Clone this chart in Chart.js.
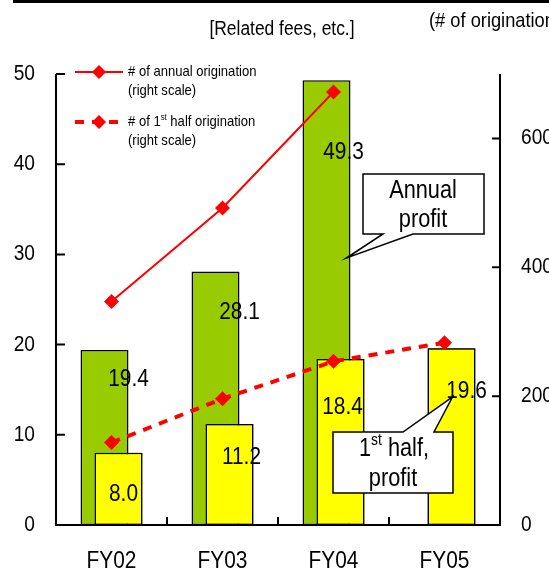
<!DOCTYPE html>
<html>
<head>
<meta charset="utf-8">
<script src="https://cdn.jsdelivr.net/npm/chart.js@4.4.1/dist/chart.umd.min.js"></script>
<style>
  html, body { margin: 0; padding: 0; background: #ffffff; }
  canvas { display: block; }
</style>
</head>
<body>
<canvas id="chart" width="549" height="574"></canvas>
<script>
// Fiscal years on the category axis
const categories = ['FY02', 'FY03', 'FY04', 'FY05'];
// Profit from related fees (left scale)
const annualProfit = [19.4, 28.1, 49.3, null];
const halfProfit = [8.0, 11.2, 18.4, 19.6];
// Number of originations (right scale)
const annualOrigination = [347, 492, 672, null];
const halfOrigination = [128, 196, 254, 283];
// Tick values for the two value axes
const leftTicks = [0, 10, 20, 30, 40, 50];
const rightTicks = [0, 200, 400, 600];

// Hand-placed nudges (px) of each value label from the top centre of its bar
const annualLabelNudge = [[24, 29], [24, 41], [17, 72], [0, 0]];
const halfLabelNudge = [[5, 42], [12, 33], [2, 48], [15, 43]];

const FONT = '"Liberation Sans", Arial, sans-serif';
const NARROW = 0.87;          // horizontal squeeze giving a condensed face
const GREEN = '#99CC00';
const YELLOW = '#FFFF00';
const RED = '#FF0000';

// Draw condensed text; pieces are [text, isSuperscript] pairs
function richWidth(ctx, pieces, size) {
  let w = 0;
  pieces.forEach(p => {
    ctx.font = (p[1] ? Math.round(size * 0.62) : size) + 'px ' + FONT;
    w += ctx.measureText(p[0]).width;
  });
  return w * NARROW;
}
function drawText(ctx, pieces, x, y, size, align) {
  if (typeof pieces === 'string') pieces = [[pieces]];
  ctx.save();
  ctx.fillStyle = '#000000';
  ctx.textBaseline = 'middle';
  ctx.textAlign = 'left';
  const w = richWidth(ctx, pieces, size);
  let start = x;
  if (align === 'center') start = x - w / 2;
  else if (align === 'right') start = x - w;
  ctx.translate(start, y);
  ctx.scale(NARROW, 1);
  let cx = 0;
  pieces.forEach(p => {
    const s = p[1] ? Math.round(size * 0.62) : size;
    ctx.font = s + 'px ' + FONT;
    ctx.fillText(p[0], cx, p[1] ? -size * 0.33 : 0);
    cx += ctx.measureText(p[0]).width;
  });
  ctx.restore();
}

function diamond(ctx, x, y, r, color) {
  ctx.save();
  ctx.fillStyle = color;
  ctx.beginPath();
  ctx.moveTo(x, y - r);
  ctx.lineTo(x + r, y);
  ctx.lineTo(x, y + r);
  ctx.lineTo(x - r, y);
  ctx.closePath();
  ctx.fill();
  ctx.restore();
}

function callout(ctx, box, base, tip, lines) {
  ctx.save();
  ctx.beginPath();
  const { l, t, r, b } = box;
  if (base.edge === 'bottom') {
    ctx.moveTo(l, t);
    ctx.lineTo(r, t);
    ctx.lineTo(r, b);
    ctx.lineTo(base.x2, b);
    ctx.lineTo(tip.x, tip.y);
    ctx.lineTo(base.x1, b);
    ctx.lineTo(l, b);
  } else {
    ctx.moveTo(l, t);
    ctx.lineTo(base.x1, t);
    ctx.lineTo(tip.x, tip.y);
    ctx.lineTo(base.x2, t);
    ctx.lineTo(r, t);
    ctx.lineTo(r, b);
    ctx.lineTo(l, b);
  }
  ctx.closePath();
  ctx.fillStyle = '#ffffff';
  ctx.fill();
  ctx.lineWidth = 1.5;
  ctx.strokeStyle = '#000000';
  ctx.stroke();
  ctx.restore();
  lines.forEach(line => drawText(ctx, line.pieces, line.cx, line.cy, 25, 'center'));
}

const overlay = {
  id: 'overlay',
  beforeDraw(chart) {
    const ctx = chart.ctx;
    ctx.save();
    ctx.fillStyle = '#ffffff';
    ctx.fillRect(0, 0, chart.width, chart.height);
    ctx.restore();
  },
  afterDatasetDraw(chart, args) {
    // half-year bars sit in front of the annual bars
    if (args.index === 0) {
      chart.getDatasetMeta(1).controller.draw();
    }
  },
  afterDatasetsDraw(chart) {
    const ctx = chart.ctx;
    const area = chart.chartArea;
    const xs = chart.scales.x;
    const yl = chart.scales.y;
    const yr = chart.scales.y2;

    ctx.save();
    ctx.strokeStyle = '#000000';
    ctx.lineWidth = 2;
    ctx.lineCap = 'butt';
    // axis lines
    ctx.beginPath();
    ctx.moveTo(area.left, area.top);
    ctx.lineTo(area.left, area.bottom);
    ctx.lineTo(area.right, area.bottom);
    ctx.lineTo(area.right, area.top);
    ctx.stroke();
    // inward tick marks
    ctx.beginPath();
    leftTicks.forEach(v => {
      const y = yl.getPixelForValue(v);
      ctx.moveTo(area.left, y);
      ctx.lineTo(area.left + 9, y);
    });
    rightTicks.forEach(v => {
      const y = yr.getPixelForValue(v);
      ctx.moveTo(area.right, y);
      ctx.lineTo(area.right - 8, y);
    });
    for (let i = 0; i < categories.length - 1; i++) {
      const x = (xs.getPixelForTick(i) + xs.getPixelForTick(i + 1)) / 2;
      ctx.moveTo(x, area.bottom);
      ctx.lineTo(x, area.bottom - 8);
    }
    ctx.stroke();
    ctx.restore();

    // tick labels
    leftTicks.forEach(v => drawText(ctx, String(v), area.left - 21, yl.getPixelForValue(v), 22, 'right'));
    rightTicks.forEach(v => drawText(ctx, String(v), area.right + 21, yr.getPixelForValue(v), 22, 'left'));
    categories.forEach((c, i) => drawText(ctx, c, xs.getPixelForTick(i), area.bottom + 36, 24, 'center'));

    // value labels on the bars
    [[0, annualProfit, annualLabelNudge], [1, halfProfit, halfLabelNudge]].forEach(([di, values, nudge]) => {
      const meta = chart.getDatasetMeta(di);
      values.forEach((v, i) => {
        if (v === null) return;
        const bar = meta.data[i];
        drawText(ctx, v.toFixed(1), bar.x + nudge[i][0], bar.y + nudge[i][1], 24, 'center');
      });
    });

    // callouts naming the two bar series
    const gBar = chart.getDatasetMeta(0).data[2];
    callout(ctx,
      { l: 363, t: 174, r: 484, b: 234 },
      { edge: 'bottom', x1: 383, x2: 413 },
      { x: gBar.x + gBar.width / 2 - 4, y: 258 },
      [{ cx: 423, cy: 191, pieces: [['Annual']] }, { cx: 423, cy: 220, pieces: [['profit']] }]);
    const yBar = chart.getDatasetMeta(1).data[3];
    callout(ctx,
      { l: 333, t: 432, r: 453, b: 493 },
      { edge: 'top', x1: 403, x2: 434 },
      { x: yBar.x + 1, y: 397 },
      [{ cx: 394, cy: 449, pieces: [['1'], ['st', true], [' half,']] }, { cx: 393, cy: 479, pieces: [['profit']] }]);

    // legend for the two origination lines
    const legendItems = [
      { ds: chart.data.datasets[2], y: 72, text: [['# of annual origination']] },
      { ds: chart.data.datasets[3], y: 122, text: [['# of 1'], ['st', true], [' half origination']] }
    ];
    legendItems.forEach(item => {
      ctx.save();
      ctx.strokeStyle = item.ds.borderColor;
      ctx.lineWidth = item.ds.borderWidth;
      ctx.setLineDash(item.ds.borderDash || []);
      ctx.beginPath();
      ctx.moveTo(75, item.y);
      ctx.lineTo(123, item.y);
      ctx.stroke();
      ctx.restore();
      diamond(ctx, 99, item.y, 7, RED);
      drawText(ctx, item.text, 128, item.y, 15, 'left');
      drawText(ctx, '(right scale)', 128, item.y + 19, 15, 'left');
    });

    // header texts and the rule above the chart
    ctx.save();
    ctx.fillStyle = '#000000';
    ctx.fillRect(13, 0, chart.width - 13, 3);
    ctx.restore();
    drawText(ctx, '[Related fees, etc.]', 282, 29, 20, 'center');
    drawText(ctx, '(# of origination)', 429, 21, 21, 'left');
  }
};

new Chart(document.getElementById('chart'), {
  data: {
    labels: categories,
    datasets: [
      {
        type: 'bar', label: 'Annual profit', data: annualProfit, yAxisID: 'y', order: 1,
        backgroundColor: GREEN, borderColor: '#000000', borderWidth: 1.5, borderSkipped: false
      },
      {
        type: 'bar', label: '1st half, profit', data: halfProfit, yAxisID: 'y', order: 2,
        backgroundColor: YELLOW, borderColor: '#000000', borderWidth: 1.5, borderSkipped: false
      },
      {
        type: 'line', label: '# of annual origination (right scale)', data: annualOrigination, yAxisID: 'y2', order: 0,
        borderColor: RED, borderWidth: 2, pointStyle: 'rectRot', pointRadius: 7.5,
        pointBackgroundColor: RED, pointBorderWidth: 0, fill: false, tension: 0
      },
      {
        type: 'line', label: '# of 1st half origination (right scale)', data: halfOrigination, yAxisID: 'y2', order: 0,
        borderColor: RED, borderWidth: 4, borderDash: [9, 8], borderCapStyle: 'butt',
        pointStyle: 'rectRot', pointRadius: 7.5, pointBackgroundColor: RED, pointBorderWidth: 0, fill: false, tension: 0
      }
    ]
  },
  options: {
    responsive: false,
    animation: false,
    devicePixelRatio: 1,
    categoryPercentage: 0.252,
    barPercentage: 3.43,
    layout: { padding: { top: 74, left: 0, right: 0, bottom: 0 } },
    plugins: { legend: { display: false }, tooltip: { enabled: false } },
    scales: {
      x: {
        type: 'category', offset: true,
        grid: { display: false, drawTicks: false }, border: { display: false },
        ticks: { display: false },
        afterFit(s) { s.height = 49; }
      },
      y: {
        position: 'left', min: 0, max: 50,
        afterBuildTicks(s) { s.ticks = leftTicks.map(v => ({ value: v })); },
        grid: { display: false, drawTicks: false }, border: { display: false },
        ticks: { display: false },
        afterFit(s) { s.width = 56; }
      },
      y2: {
        position: 'right', min: 0, max: 700,
        afterBuildTicks(s) { s.ticks = rightTicks.map(v => ({ value: v })); },
        grid: { display: false, drawTicks: false }, border: { display: false },
        ticks: { display: false },
        afterFit(s) { s.width = 49; }
      }
    }
  },
  plugins: [overlay]
});
</script>
</body>
</html>
